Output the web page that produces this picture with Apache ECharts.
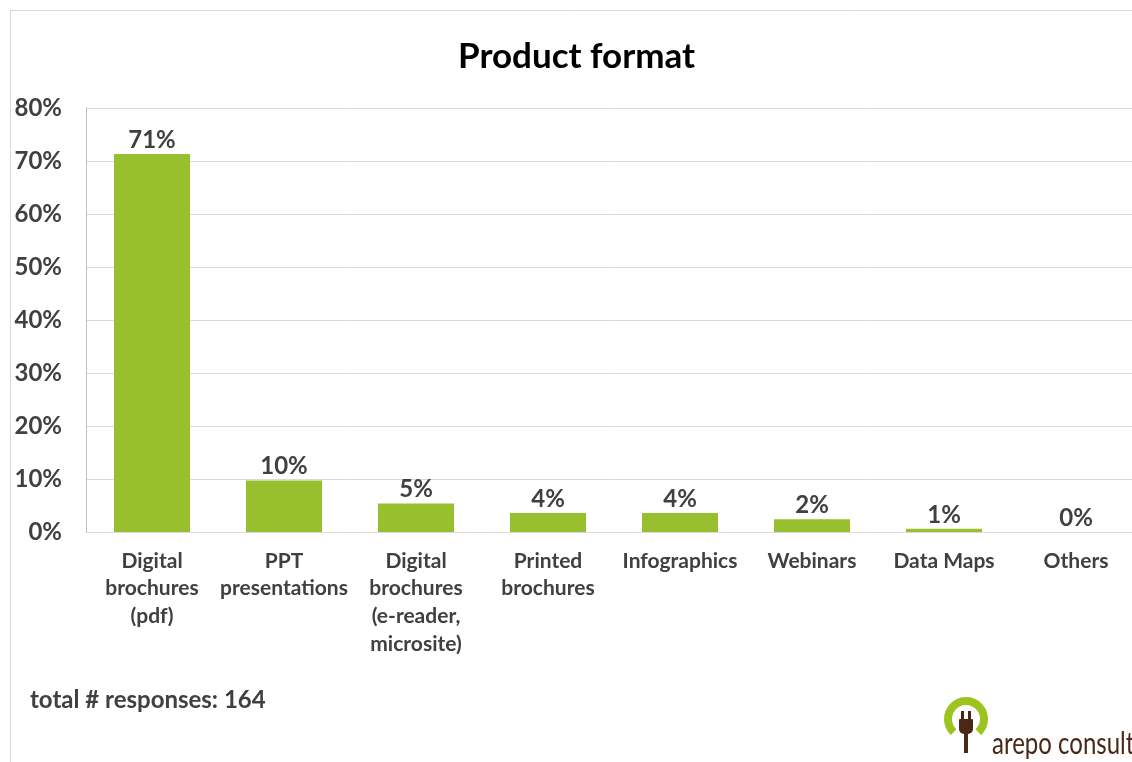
<!DOCTYPE html>
<html>
<head>
<meta charset="utf-8">
<script src="https://cdn.jsdelivr.net/npm/echarts@6/dist/echarts.min.js"></script>
<style>
  html, body { margin: 0; padding: 0; background: #fff; }
  #chart { width: 1132px; height: 762px; }
</style>
</head>
<body>
<div id="chart"></div>
<script>
// Survey results: share of respondents per product format
const categories = [
  'Digital\nbrochures\n(pdf)',
  'PPT\npresentations',
  'Digital\nbrochures\n(e-reader,\nmicrosite)',
  'Printed\nbrochures',
  'Infographics',
  'Webinars',
  'Data Maps',
  'Others'
];
const shares = [71.3, 9.7, 5.4, 3.6, 3.6, 2.4, 0.6, 0];
const yTicks = [0, 10, 20, 30, 40, 50, 60, 70, 80];
const titleText = 'Product format';
const footnote = 'total # responses: 164';
const brand = 'arepo consult';

const FONT = 'Lato, "Open Sans", sans-serif';
const GREEN = '#98bf2d';
const TEXT = '#404040';
const BROWN = '#4a2816';

const chart = echarts.init(document.getElementById('chart'), null, { renderer: 'canvas' });

chart.setOption({
  backgroundColor: '#ffffff',
  animation: false,
  title: {
    text: titleText,
    left: 453,
    top: 34,
    textStyle: { fontFamily: FONT, fontWeight: 'bold', fontSize: 35, color: '#000' }
  },
  // the plot runs on past the right edge of the page
  grid: { left: 86, top: 108, width: 1056, height: 424, containLabel: false, outerBoundsMode: 'none' },
  xAxis: {
    type: 'category',
    data: categories,
    axisLine: { show: true, lineStyle: { color: '#d9d9d9', width: 1 } },
    axisTick: { show: false },
    axisLabel: {
      interval: 0,
      margin: 15,
      color: TEXT,
      fontFamily: FONT,
      fontWeight: 'bold',
      fontSize: 21,
      lineHeight: 27.7
    }
  },
  yAxis: {
    type: 'value',
    min: 0,
    max: 80,
    interval: 10,
    axisLine: { show: true, lineStyle: { color: '#bfbfbf', width: 1 } },
    axisTick: { show: false },
    splitLine: { lineStyle: { color: '#d9d9d9', width: 1 } },
    axisLabel: {
      margin: 24,
      color: TEXT,
      fontFamily: FONT,
      fontWeight: 'bold',
      fontSize: 24,
      formatter: v => (yTicks.includes(v) ? v + '%' : '')
    }
  },
  series: [{
    type: 'bar',
    data: shares,
    barWidth: 76,
    itemStyle: { color: GREEN },
    label: {
      show: true,
      position: 'top',
      distance: 2,
      color: TEXT,
      fontFamily: FONT,
      fontWeight: 'bold',
      fontSize: 24,
      formatter: p => Math.round(p.value) + '%'
    }
  }],
  graphic: [
    // outer frame
    {
      type: 'rect',
      silent: true,
      shape: { x: 10.5, y: 10.5, width: 1200, height: 800 },
      style: { fill: 'none', stroke: '#d9d9d9', lineWidth: 1 }
    },
    {
      type: 'text',
      silent: true,
      style: {
        x: 30, y: 700, text: footnote, textVerticalAlign: 'middle',
        fontFamily: FONT, fontWeight: 'bold', fontSize: 24, fill: TEXT
      }
    },
    // logo: open green ring with a plug inside
    {
      type: 'arc',
      silent: true,
      shape: { cx: 966, cy: 719, r: 18, startAngle: Math.PI * 0.74, endAngle: Math.PI * 2.26 },
      style: { fill: 'none', stroke: '#9cc31e', lineWidth: 8 }
    },
    {
      type: 'rect',
      silent: true,
      shape: { x: 959, y: 719, width: 14, height: 15, r: [1, 1, 5, 5] },
      style: { fill: BROWN }
    },
    {
      type: 'rect',
      silent: true,
      shape: { x: 961, y: 711, width: 3, height: 9 },
      style: { fill: BROWN }
    },
    {
      type: 'rect',
      silent: true,
      shape: { x: 968, y: 711, width: 3, height: 9 },
      style: { fill: BROWN }
    },
    {
      type: 'rect',
      silent: true,
      shape: { x: 964, y: 733, width: 4, height: 20 },
      style: { fill: BROWN }
    },
    {
      type: 'text',
      silent: true,
      x: 992,
      y: 744,
      scaleX: 0.8,
      style: {
        x: 0, y: 0, text: brand, textVerticalAlign: 'middle',
        fontFamily: FONT, fontSize: 30, fill: BROWN
      }
    }
  ]
});
</script>
</body>
</html>
